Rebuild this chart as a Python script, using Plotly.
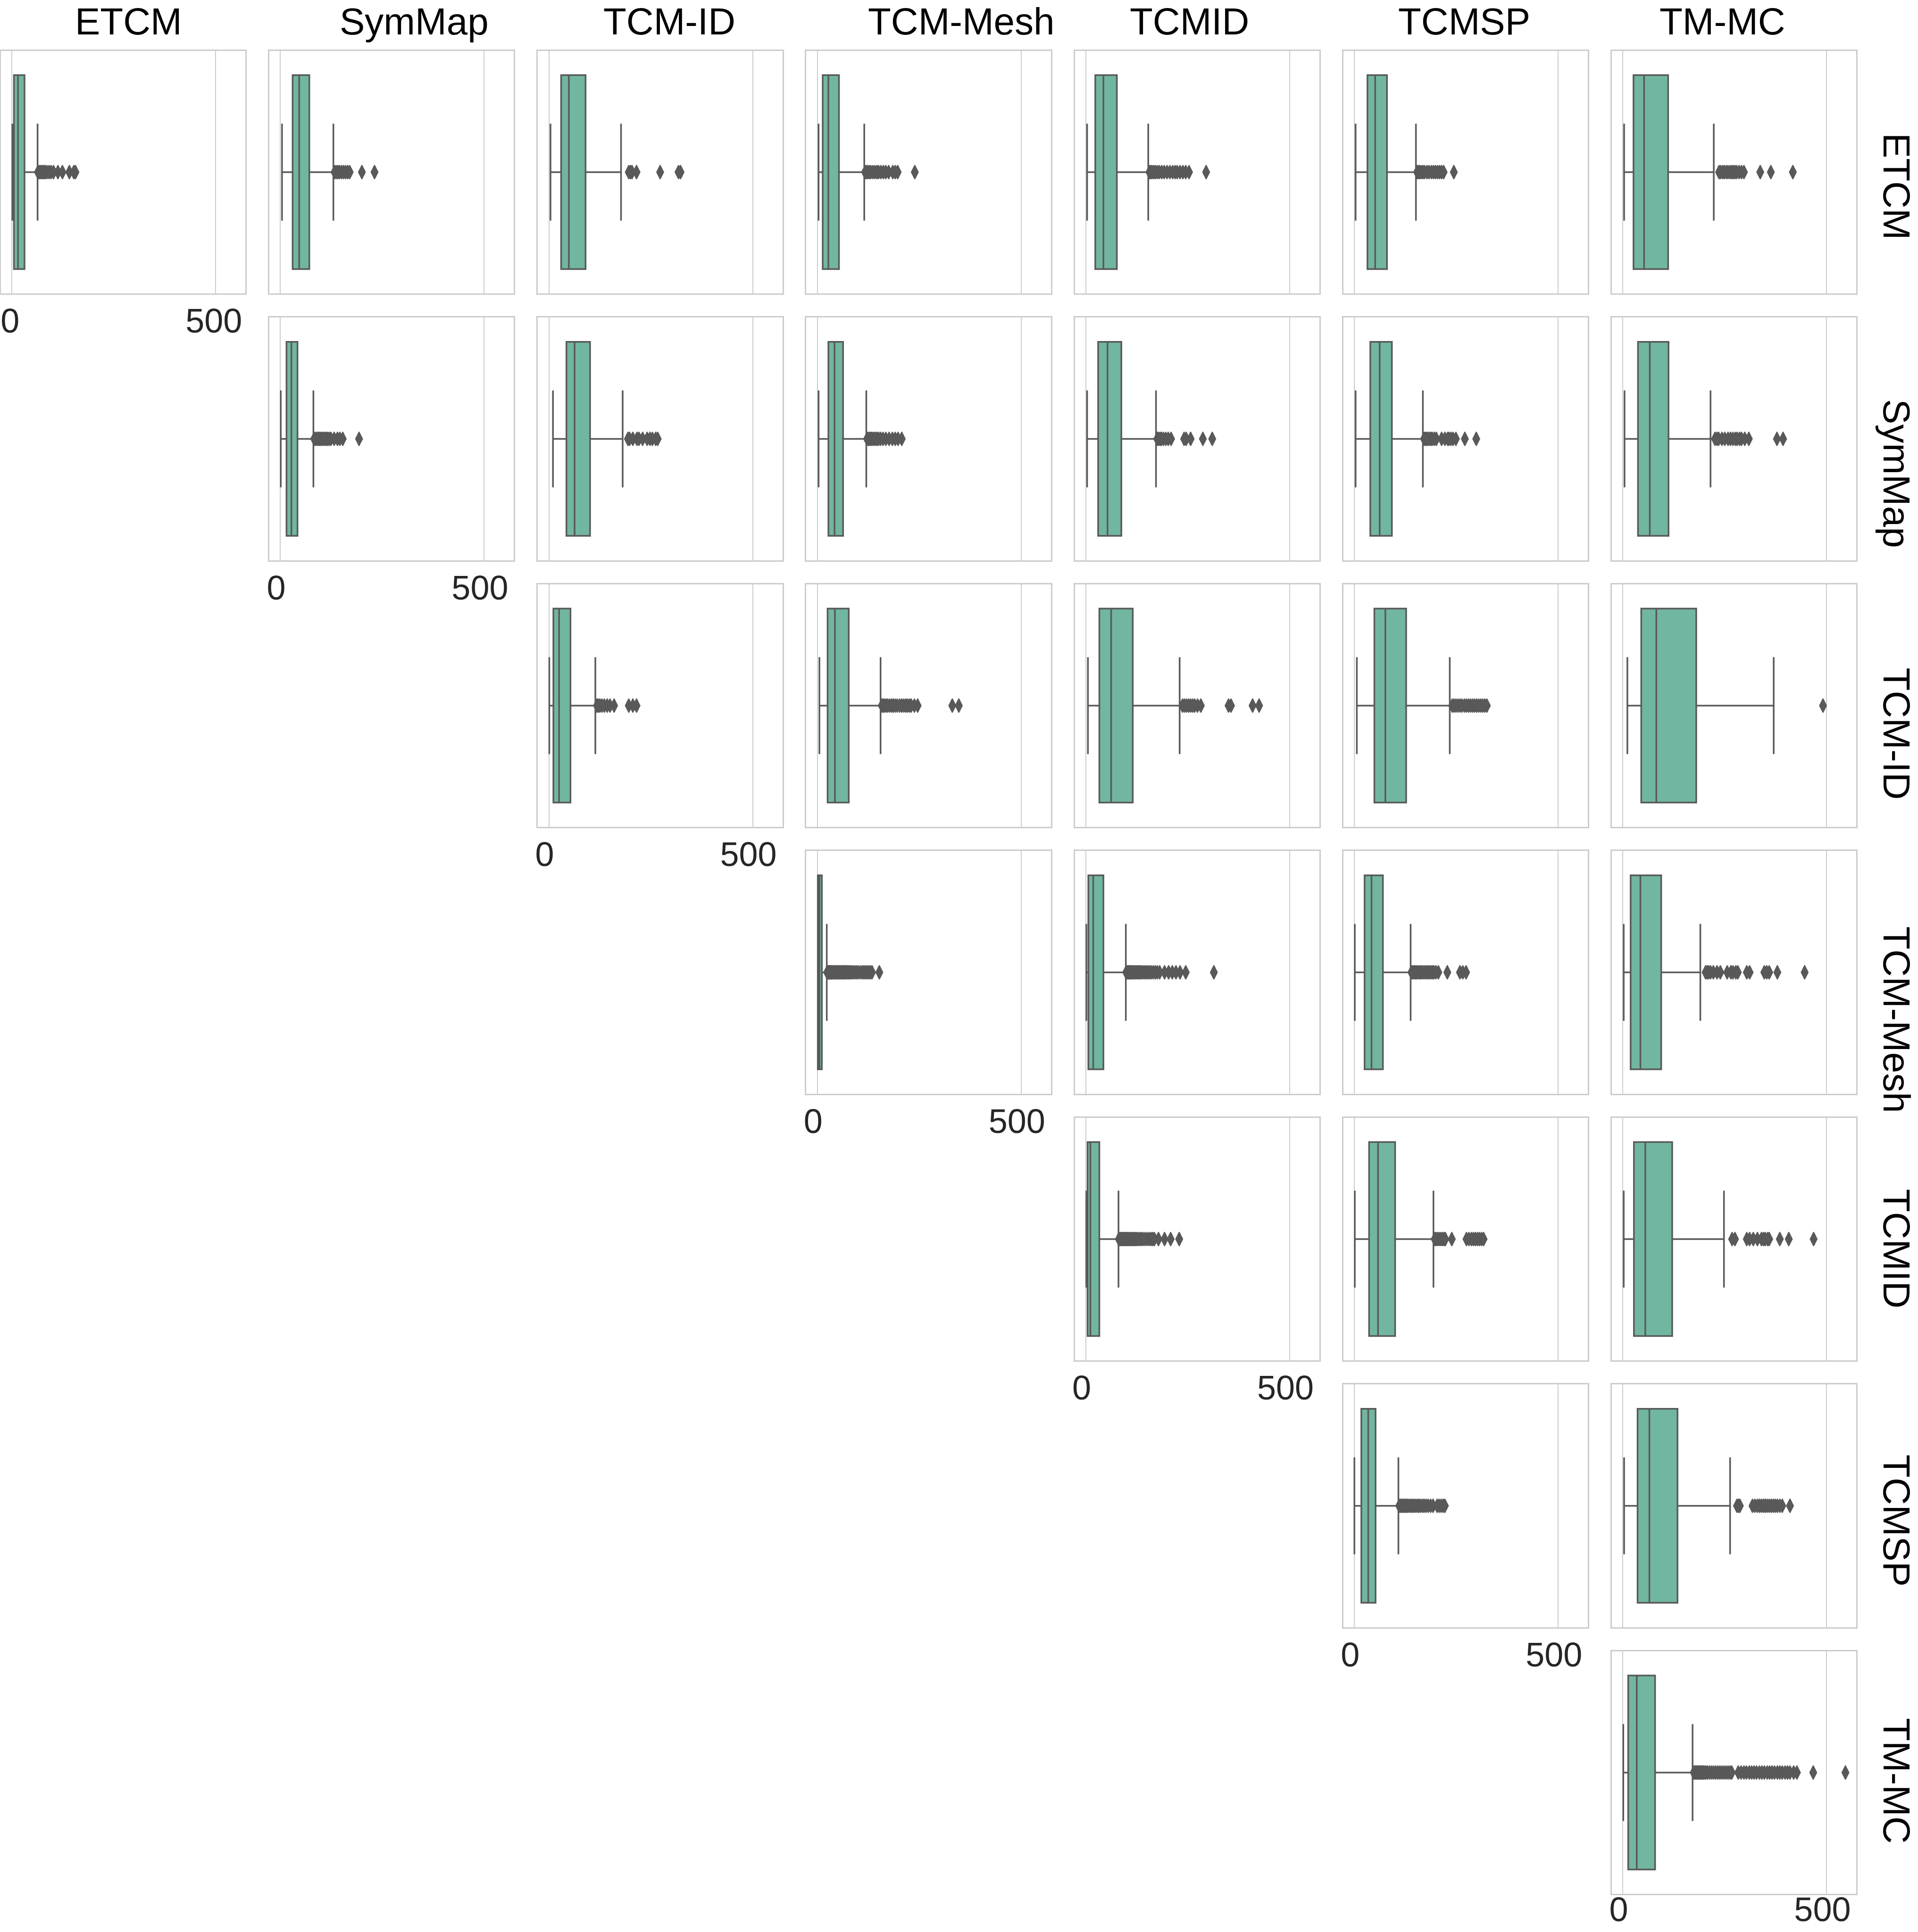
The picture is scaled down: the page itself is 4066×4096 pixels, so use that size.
import plotly.graph_objects as go

# ---------------- data ----------------
datasets = ["ETCM", "SymMap", "TCM-ID", "TCM-Mesh", "TCMID", "TCMSP", "TM-MC"]

# panels in row-major order (row dataset, column dataset), upper triangle incl. diagonal
panel_rows = [0, 0, 0, 0, 0, 0, 0,
              1, 1, 1, 1, 1, 1,
              2, 2, 2, 2, 2,
              3, 3, 3, 3,
              4, 4, 4,
              5, 5,
              6]
panel_cols = [0, 1, 2, 3, 4, 5, 6,
              1, 2, 3, 4, 5, 6,
              2, 3, 4, 5, 6,
              3, 4, 5, 6,
              4, 5, 6,
              5, 6,
              6]

whisker_low = [1, 4, 4, 3, 3, 3, 3,
               1, 10, 3, 3, 3, 4,
               1, 5, 5, 6, 11,
               1, 1, 1, 2,
               1, 1, 2,
               0, 3,
               1]
q1 = [5, 30, 30, 13, 23, 32, 26,
      15, 43, 27, 30, 39, 37,
      11, 25, 33, 49, 45,
      1, 6, 25, 19,
      4, 36, 27,
      17, 36,
      13]
median = [15, 46, 49, 27, 43, 51, 52,
          27, 63, 42, 53, 62, 66,
          25, 43, 62, 76, 82,
          5, 18, 42, 43,
          11, 58, 55,
          34, 65,
          34]
q3 = [31, 71, 90, 53, 76, 80, 111,
      42, 101, 63, 87, 92, 112,
      53, 77, 115, 127, 180,
      11, 43, 70, 94,
      33, 100, 121,
      52, 134,
      79]
whisker_high = [63, 130, 177, 115, 153, 151, 223,
                81, 181, 120, 172, 168, 215,
                114, 155, 230, 234, 370,
                23, 98, 138, 190,
                80, 194, 248,
                108, 263,
                171]
outliers = [
    # ETCM row
    [64, 67, 70, 73, 76, 79, 82, 86, 91, 96, 102, 113, 124, 141, 152, 156],
    [133, 137, 141, 145, 150, 155, 160, 165, 170, 200, 231],
    [196, 200, 204, 215, 273, 318, 323],
    [117, 120, 123, 127, 131, 136, 141, 146, 150, 156, 162, 168, 175, 185, 191, 197, 239],
    [156, 159, 162, 166, 170, 175, 180, 186, 192, 199, 206, 213, 219, 224, 231, 238, 245, 253, 295],
    [154, 157, 160, 164, 168, 172, 178, 183, 189, 194, 199, 204, 209, 214, 219, 244],
    [236, 240, 245, 249, 254, 258, 263, 267, 271, 275, 279, 285, 291, 297, 337, 363, 417],
    # SymMap row
    [83, 86, 90, 93, 96, 99, 102, 106, 109, 113, 116, 120, 124, 132, 140, 146, 153, 193],
    [194, 198, 206, 216, 221, 230, 241, 248, 254, 262, 267],
    [122, 125, 128, 131, 134, 138, 142, 146, 150, 155, 161, 168, 176, 184, 191, 198, 207],
    [175, 178, 182, 185, 190, 196, 202, 209, 241, 246, 257, 287, 310],
    [171, 174, 177, 180, 184, 188, 191, 196, 201, 214, 222, 229, 232, 237, 242, 249, 271, 299],
    [226, 231, 235, 243, 250, 258, 264, 270, 276, 280, 286, 291, 299, 309, 378, 393],
    # TCM-ID row
    [118, 121, 125, 130, 136, 143, 150, 160, 196, 206, 215],
    [158, 161, 164, 168, 172, 177, 182, 186, 191, 196, 202, 207, 212, 217, 221, 226, 230, 238, 246, 331, 347],
    [237, 242, 247, 252, 257, 262, 267, 274, 282, 350, 356, 409, 425],
    [240, 244, 249, 254, 259, 264, 270, 275, 280, 285, 290, 295, 300, 305, 310, 315, 320, 325],
    [491],
    # TCM-Mesh row
    [24, 25, 26, 27, 28, 29, 30, 31, 32, 33, 34, 35, 36, 38, 40, 42, 44, 46, 48, 50, 52, 54, 56, 58,
     60, 62, 64, 66, 68, 70, 72, 75, 78, 81, 84, 88, 92, 96, 100, 105, 110, 114, 118, 122, 126, 130,
     134, 152],
    [99, 101, 103, 105, 107, 109, 111, 113, 115, 118, 121, 124, 127, 130, 133, 136, 140, 144, 148,
     152, 156, 160, 165, 170, 175, 181, 193, 203, 212, 221, 231, 245, 314],
    [140, 143, 146, 149, 152, 155, 159, 162, 165, 169, 173, 177, 180, 184, 188, 192, 195, 200, 206,
     228, 259, 266, 274],
    [203, 207, 210, 215, 222, 231, 239, 256, 265, 270, 277, 282, 304, 311, 347, 353, 359, 379, 446],
    # TCMID row
    [81, 83, 85, 87, 89, 91, 93, 95, 97, 100, 103, 106, 109, 112, 115, 118, 121, 124, 128, 132, 136,
     140, 145, 150, 155, 160, 164, 168, 178, 193, 208, 229],
    [197, 200, 204, 208, 212, 216, 220, 223, 239, 275, 281, 287, 292, 297, 302, 307, 312, 317],
    [268, 275, 304, 311, 320, 330, 340, 345, 349, 355, 359, 385, 407, 468],
    # TCMSP row
    [110, 113, 116, 119, 122, 125, 128, 131, 135, 139, 142, 146, 150, 154, 158, 162, 167, 171, 176,
     181, 187, 193, 203, 208, 213, 218, 222],
    [280, 284, 287, 318, 324, 330, 335, 340, 345, 349, 354, 359, 364, 369, 374, 379, 385, 391, 410],
    # TM-MC row
    [174, 176, 178, 180, 182, 184, 186, 188, 190, 192, 194, 196, 198, 200, 204, 208, 213, 218, 223,
     228, 233, 238, 243, 248, 253, 258, 263, 267, 283, 290, 297, 303, 310, 316, 322, 328, 335, 341,
     347, 354, 360, 366, 372, 379, 385, 391, 398, 404, 410, 419, 427, 467, 546],
]

x_ticks = [0, 500]
x_tick_text = ["0", "500"]
x_range = [-27, 573]

# ---------------- layout geometry (pixels) ----------------
W, H = 4066, 4096
col_left0, col_pitch, panel_w = 1.87, 569.2, 518.4
row_top0, row_pitch, panel_h = 107.9, 565.5, 514.1
title_x_px = [272.1, 877.8, 1419.1, 2037.8, 2521.0, 3104.1, 3651.5]
label_y_px = [395.6, 1003.6, 1555.1, 2161.6, 2647.2, 3223.3, 3775.7]

BOX_FILL = "#71b6a1"
LINE_GRAY = "#595959"
FRAME = "#cccccc"
FONT = "Liberation Sans, Arial, sans-serif"

fig = go.Figure()
layout = {}
for k, (r, c) in enumerate(zip(panel_rows, panel_cols)):
    idx = k + 1
    xa = "x" if idx == 1 else f"x{idx}"
    ya = "y" if idx == 1 else f"y{idx}"
    left = col_left0 + col_pitch * c
    top = row_top0 + row_pitch * r
    xdom = [left / W, (left + panel_w) / W]
    ydom = [1 - (top + panel_h) / H, 1 - top / H]
    xkey = "xaxis" if idx == 1 else f"xaxis{idx}"
    ykey = "yaxis" if idx == 1 else f"yaxis{idx}"
    standoff = -31 if r == len(datasets) - 1 else -6
    shift = -4 if c == 0 else -9
    layout[xkey] = dict(
        domain=xdom, anchor=ya, range=x_range, tickmode="array",
        tickvals=x_ticks, ticktext=x_tick_text, showticklabels=(r == c),
        showgrid=True, gridcolor=FRAME, gridwidth=2, zeroline=False,
        showline=True, mirror=True, linecolor=FRAME, linewidth=3, ticks="",
        tickfont=dict(family=FONT, size=72, color="#262626"),
        ticklabelshift=shift, ticklabelstandoff=standoff, fixedrange=True,
        automargin=False,
    )
    layout[ykey] = dict(
        domain=ydom, anchor=xa, range=[-0.5, 0.5], showticklabels=False,
        showgrid=False, zeroline=False, showline=True, mirror=True,
        linecolor=FRAME, linewidth=3, ticks="", fixedrange=True,
        automargin=False,
    )
    fig.add_trace(go.Box(
        orientation="h", y=[0],
        q1=[q1[k]], median=[median[k]], q3=[q3[k]],
        lowerfence=[whisker_low[k]], upperfence=[whisker_high[k]],
        width=0.8, whiskerwidth=0.5, fillcolor=BOX_FILL,
        line=dict(color=LINE_GRAY, width=3.5), boxpoints=False,
        xaxis=xa, yaxis=ya, showlegend=False, hoverinfo="skip",
    ))
    fig.add_trace(go.Scatter(
        x=outliers[k], y=[0] * len(outliers[k]), mode="markers",
        marker=dict(symbol="diamond-tall", size=21, color=LINE_GRAY,
                    line=dict(color=LINE_GRAY, width=2)),
        xaxis=xa, yaxis=ya, showlegend=False, hoverinfo="skip",
    ))

annotations = []
for name, tx in zip(datasets, title_x_px):
    annotations.append(dict(
        text=name, xref="paper", yref="paper", x=tx / W, y=1.0,
        xanchor="center", yanchor="top", borderpad=0, showarrow=False,
        font=dict(family=FONT, size=80, color="#000000"),
    ))
for name, ly in zip(datasets, label_y_px):
    annotations.append(dict(
        text=name, xref="paper", yref="paper", x=1.0, y=1 - ly / H,
        xanchor="right", yanchor="middle", borderpad=0, showarrow=False,
        textangle=90, font=dict(family=FONT, size=80, color="#000000"),
    ))

fig.update_layout(
    template="none",
    width=W, height=H, margin=dict(l=0, r=0, t=0, b=0, autoexpand=False),
    paper_bgcolor="white", plot_bgcolor="white",
    annotations=annotations, showlegend=False, **layout,
)
fig.write_html("out.html")
